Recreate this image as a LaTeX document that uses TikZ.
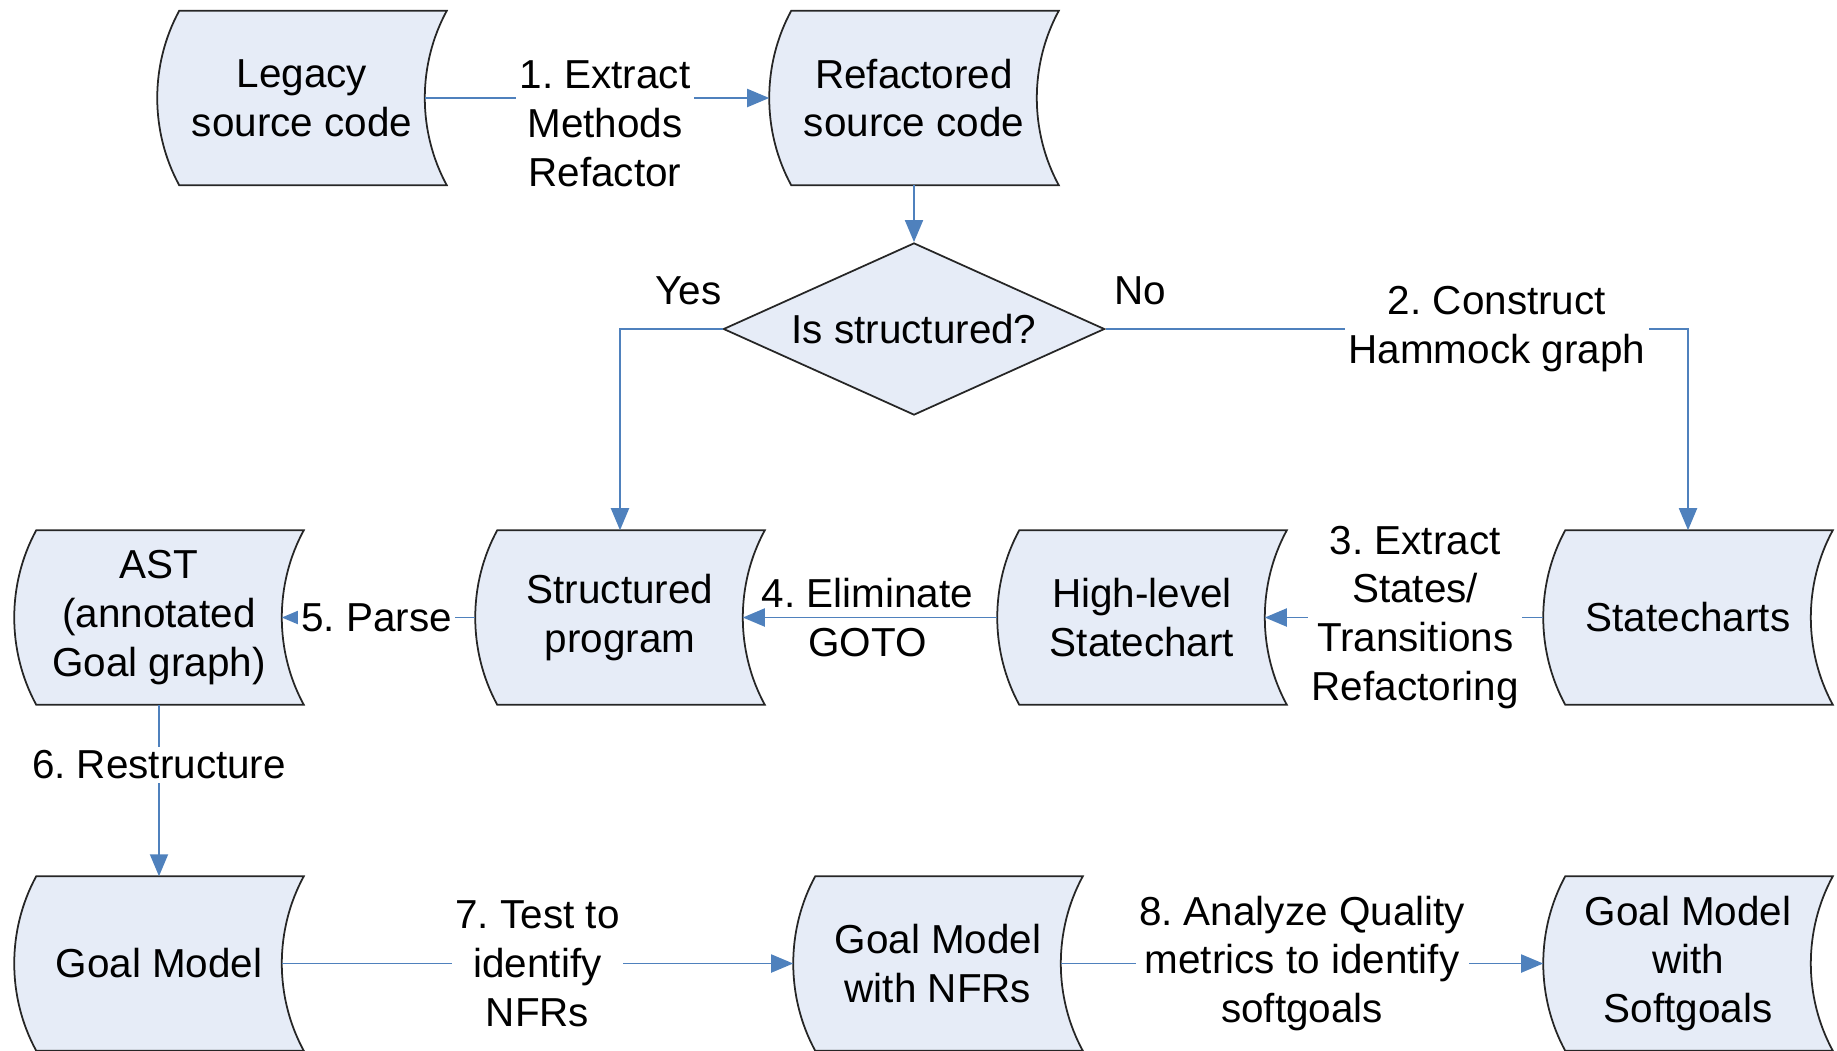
\documentclass[tikz,border=0pt]{standalone}
\usepackage{fontspec}
\setmainfont{Liberation Sans}
\usetikzlibrary{arrows.meta,shapes.geometric}
\pgfdeclarelayer{background}
\pgfsetlayers{background,main}
\definecolor{boxfill}{RGB}{230,236,247}
\definecolor{conncol}{RGB}{79,129,189}
\frenchspacing
\newcommand\dfont{\fontsize{11.5}{13.9}\selectfont\frenchspacing}
\newcommand\sdpath[1]{%
  \path[sdshape] ([xshift=2.2mm]#1.north west) -- (#1.north east)
    .. controls +(-2.93mm,-5.39mm) and +(-2.93mm,5.39mm) .. (#1.south east)
    -- ([xshift=2.2mm]#1.south west)
    .. controls +(-2.93mm,5.39mm) and +(-2.93mm,-5.39mm) .. ([xshift=2.2mm]#1.north west) -- cycle;}
\begin{document}
\begin{tikzpicture}[x=0.01cm,y=0.01cm,
  sd/.style={rectangle, inner sep=0pt, minimum width=2.88cm, minimum height=1.73cm, align=center, font=\dfont},
  sdshape/.style={fill=boxfill, draw=black!85, line width=0.5pt},
  dec/.style={diamond, shape aspect=2.2, inner sep=0pt, minimum width=3.81cm, minimum height=1.72cm, fill=boxfill, draw=black!85, line width=0.5pt, font=\dfont},
  conn/.style={draw=conncol, line width=0.55pt, -{Triangle[length=2.2mm,width=1.8mm]}},
  lbl/.style={fill=white, inner sep=1pt, align=center, font=\dfont, text=black},
  plainlbl/.style={inner sep=1pt, align=center, font=\dfont, text=black}]
\useasboundingbox (0,0) rectangle (1837,1050);
% nodes
\node[sd] (legacy) at (302,952) {Legacy\\source code};
\node[sd] (refac)  at (914,952) {Refactored\\source code};
\node[dec] (dec)   at (914,721) {Is structured?};
\node[sd] (ast)    at (159,432.5) {AST\\(annotated\\Goal graph)};
\node[sd] (struct) at (620,432.5) {Structured\\program};
\node[sd] (high)   at (1142,432.5) {High-level\\Statechart};
\node[sd] (state)  at (1688,432.5) {Statecharts};
\node[sd] (goal)   at (159,86.5) {Goal Model};
\node[sd] (nfr)    at (938,86.5) {Goal Model\\with NFRs};
\node[sd] (soft)   at (1688,86.5) {Goal Model\\with\\Softgoals};
\begin{pgfonlayer}{background}
  \foreach \n in {legacy,refac,ast,struct,high,state,goal,nfr,soft} {\sdpath{\n}}
\end{pgfonlayer}
% connectors
\draw[conn] ([xshift=-2.2mm]legacy.east) -- node[lbl, pos=0.523, yshift=-2.6mm] {1. Extract\\Methods\\Refactor} (refac.west);
\draw[conn] (refac.south) -- (dec.north);
\draw[conn] (dec.west) -| node[plainlbl, pos=0.167, yshift=3.8mm] {Yes} (struct.north);
\draw[conn] (dec.east) -| node[plainlbl, pos=0.03, yshift=3.8mm] {No}
  node[lbl, pos=0.336] {2. Construct\\Hammock graph} (state.north);
\draw[conn] (state.west) -- node[lbl, pos=0.46] {3. Extract\\States/\\Transitions\\Refactoring} ([xshift=-2.2mm]high.east);
\draw[conn] (high.west) -- node[plainlbl, pos=0.51] {4. Eliminate\\GOTO} ([xshift=-2.2mm]struct.east);
\draw[conn] (struct.west) -- node[lbl, pos=0.51] {5. Parse} ([xshift=-2.2mm]ast.east);
\draw[conn] (ast.south) -- node[lbl, pos=0.35] {6. Restructure} (goal.north);
\draw[conn] ([xshift=-2.2mm]goal.east) -- node[lbl, pos=0.5] {7. Test to\\identify\\NFRs} (nfr.west);
\draw[conn] ([xshift=-2.2mm]nfr.east) -- node[lbl, pos=0.5] {8. Analyze Quality\\metrics to identify\\softgoals} (soft.west);
\end{tikzpicture}
\end{document}
